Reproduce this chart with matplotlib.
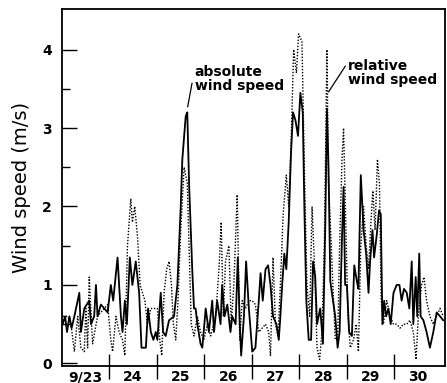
import matplotlib
matplotlib.use("Agg")
import matplotlib.pyplot as plt
import numpy as np

# time in hours from 9/23 00:00, wind speed in m/s
abs_t = [0.5,1.7,2.7,3.9,5.0,6.4,8.9,9.7,11.4,13.9,14.8,16.4,17.3,18.1,19.8,21.5,23.2,24.8,26.0,28.2,
         29.9,30.7,31.9,32.9,34.4,35.7,37.4,39.1,40.3,42.5,43.6,45.0,46.3,47.5,48.3,50.0,51.2,52.5,54.2,56.7,
         58.4,60.1,60.9,62.6,63.4,64.3,65.9,66.8,67.6,68.5,70.1,71.0,72.7,74.3,76.0,76.9,78.5,80.2,81.0,82.2,
         83.6,85.2,86.1,87.8,88.9,89.9,90.6,92.0,93.1,94.5,96.2,97.8,99.5,100.4,101.5,102.9,104.2,105.4,106.7,108.4,
         109.6,110.4,111.3,112.4,113.4,114.6,115.8,116.8,118.0,119.3,120.5,121.7,122.5,123.5,124.7,125.9,126.9,128.0,128.9,130.5,
         131.9,133.1,133.9,134.7,135.6,136.4,138.1,139.3,140.3,141.5,142.3,143.1,144.0,145.1,146.5,147.7,149.0,149.8,151.0,152.4,
         153.7,154.9,155.7,156.9,157.7,159.1,160.2,161.1,161.9,162.8,163.8,164.9,166.1,167.5,169.1,170.5,171.6,172.8,174.2,175.5,
         176.7,177.5,178.7,179.5,180.5,181.2,182.6,184.2,185.9,187.6,189.3,191.0,192.6]
abs_v = [0.5,0.6,0.4,0.6,0.45,0.6,0.9,0.4,0.7,0.8,0.5,0.6,1.0,0.6,0.75,0.7,0.65,1.0,0.8,1.35,
         0.6,0.4,0.8,0.5,1.35,1.0,1.3,0.9,0.2,0.2,0.7,0.4,0.3,0.4,0.3,0.9,0.4,0.35,0.55,0.6,
         1.0,2.0,2.6,3.15,3.2,2.3,1.2,0.7,0.7,0.5,0.25,0.2,0.7,0.4,0.8,0.4,0.8,0.5,1.0,0.6,
         0.75,0.4,0.6,0.5,1.35,0.5,0.1,0.6,1.3,0.7,0.15,0.2,0.8,1.15,0.8,1.2,1.25,1.0,0.6,0.5,
         0.3,0.6,1.0,1.4,1.2,1.8,2.7,3.2,3.1,2.9,3.45,3.2,2.0,0.8,0.3,0.3,1.3,1.1,0.5,0.7,
         0.25,1.8,3.25,2.5,1.05,0.9,0.6,0.2,0.4,1.6,2.25,1.0,1.0,0.4,0.35,1.25,1.05,0.95,2.4,1.7,
         1.4,0.9,1.3,1.7,1.35,1.65,1.95,1.9,0.5,0.8,0.6,0.7,0.5,0.9,1.0,1.0,0.8,0.95,0.9,0.7,
         1.3,0.5,1.1,0.6,1.4,0.6,0.55,0.4,0.2,0.4,0.65,0.6,0.55]

rel_t = [0.5,3.0,4.7,6.4,8.1,9.7,11.4,12.2,13.1,13.9,15.6,18.1,21.5,23.2,24.8,25.7,27.4,29.0,30.7,31.9,
         33.2,34.9,35.7,36.9,38.3,39.6,40.8,42.0,43.3,45.0,46.6,48.3,49.5,50.5,51.7,53.0,54.2,55.4,56.4,57.6,
         58.7,60.1,61.8,63.4,64.3,65.4,66.8,68.5,70.1,71.8,73.5,75.2,77.7,79.4,80.5,81.6,82.7,84.4,85.6,86.9,
         88.6,89.9,91.1,92.8,94.5,96.2,97.8,99.5,101.2,102.9,104.5,105.4,106.7,107.9,109.2,110.4,111.8,113.4,114.6,115.8,
         117.1,118.5,119.6,121.3,122.5,123.8,125.2,126.4,127.7,128.9,130.2,131.4,132.6,133.9,134.7,135.6,136.9,138.1,139.3,140.3,
         141.5,142.3,143.5,144.5,145.7,147.3,148.7,149.8,151.0,152.4,153.7,154.9,156.1,157.1,158.2,159.4,160.4,161.3,162.4,164.1,
         165.8,167.5,169.1,170.8,172.5,174.2,175.8,177.5,178.9,180.0,181.7,182.9,184.2,185.9,187.6,189.3,191.0,192.6]
rel_v = [0.6,0.6,0.5,0.15,0.6,0.2,0.15,0.7,0.2,1.1,0.25,0.6,0.7,0.75,0.3,0.15,0.6,0.4,0.3,0.1,
         1.5,2.1,1.8,2.0,1.6,1.0,0.9,0.8,0.5,0.7,0.7,0.7,0.3,0.1,0.9,1.2,1.3,1.0,0.5,0.3,
         0.8,1.7,2.5,2.3,1.5,0.5,0.35,0.6,0.4,0.3,0.5,0.35,0.6,1.2,1.8,0.6,1.3,1.5,0.5,1.0,
         2.15,0.3,0.8,0.7,0.8,0.8,0.75,0.4,0.45,0.5,0.4,0.1,1.35,0.5,0.35,1.0,1.9,2.4,2.0,2.8,
         4.0,3.7,4.2,4.1,2.5,1.0,0.6,2.0,1.2,0.2,0.05,0.4,1.5,4.0,2.3,1.8,1.0,0.3,0.3,1.5,
         2.6,3.0,1.7,0.6,0.2,0.3,0.5,0.15,1.5,2.0,1.5,1.2,1.8,2.2,1.7,2.6,2.3,0.8,0.5,0.8,
         0.6,0.5,0.5,0.45,0.5,0.5,0.55,0.4,0.05,0.6,1.0,1.1,0.8,0.6,0.5,0.6,0.7,0.6]

day_labels = ["9/23", "24", "25", "26", "27", "28", "29", "30"]
y_ticks = [0, 1, 2, 3, 4]

fig = plt.figure(figsize=(4.47, 3.83), dpi=100)
ax = fig.add_axes([0.138, 0.044, 0.8575, 0.932])

ax.plot(rel_t, rel_v, color="black", lw=1.0, ls=(0, (1, 1.2)))
ax.plot(abs_t, abs_v, color="black", lw=1.3)

ax.set_xlim(0, 193.5)
ax.set_ylim(-0.035, 4.515)

ax.set_yticks(y_ticks)
ax.set_yticks([0.5, 1.5, 2.5, 3.5], minor=True)
ax.set_yticklabels([str(v) for v in y_ticks], fontsize=10, fontweight="bold")
ax.tick_params(axis="y", which="major", direction="in", length=11, width=1.0, pad=7)
ax.tick_params(axis="y", which="minor", direction="in", length=6, width=1.0)

# day boundaries as major ticks, day labels as minor ticks at day centers
ax.set_xticks([24 * i for i in range(1, 8)])
ax.set_xticklabels([])
ax.set_xticks([24 * i + 12 for i in range(8)], minor=True)
ax.set_xticklabels(day_labels, minor=True, fontsize=10, fontweight="bold")
ax.tick_params(axis="x", which="major", direction="inout", length=18, width=1.0)
ax.tick_params(axis="x", which="minor", length=0, pad=3)

ax.set_ylabel("Wind speed (m/s)", fontsize=14, labelpad=8)

for s in ax.spines.values():
    s.set_linewidth(1.3)

ax.annotate("absolute\nwind speed", xy=(63.6, 3.27), xytext=(67.2, 3.80),
            fontsize=10, fontweight="bold", ha="left", va="top", linespacing=1.0,
            arrowprops=dict(arrowstyle="-", color="black", lw=0.9, shrinkA=0, shrinkB=0,
                            relpos=(0, 0.9)))
ax.annotate("relative\nwind speed", xy=(134.7, 3.46), xytext=(144.6, 3.88),
            fontsize=10, fontweight="bold", ha="left", va="top", linespacing=1.0,
            arrowprops=dict(arrowstyle="-", color="black", lw=0.9, shrinkA=0, shrinkB=0,
                            relpos=(0, 0.9)))

fig.savefig("out.png", dpi=100)
